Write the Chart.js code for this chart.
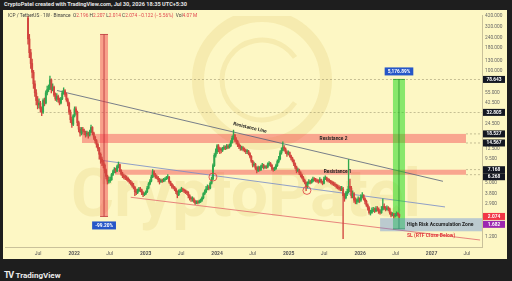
<!doctype html>
<html>
<head>
<meta charset="utf-8">
<title>ICP / TetherUS 1W</title>
<script src="https://cdn.jsdelivr.net/npm/chart.js"></script>
<style>
  html, body { margin: 0; padding: 0; width: 512px; height: 281px; overflow: hidden; background: #1e1e1e; font-family: Roboto, "Liberation Sans", sans-serif; }
  #top { position: absolute; left: 4px; top: 1px; font-size: 5.6px; font-weight: bold; color: #e6e6e6; white-space: nowrap; }
  #wrap { position: absolute; left: 3px; top: 10px; width: 504px; height: 249px; background: #fdf7c4; }
  #foot { position: absolute; left: 4px; top: 263px; color: #ececec; font-weight: bold; white-space: nowrap; }
  #foot .logo { font-size: 9px; letter-spacing: -1.5px; margin-right: 3px; }
  #foot .name { font-size: 8px; }
</style>
</head>
<body>
<div id="top">CryptoPatel created with TradingView.com, Jul 30, 2026 18:35 UTC+5:30</div>
<div id="wrap"><canvas id="chart" width="504" height="249"></canvas></div>
<div id="foot"><span class="logo">TV</span><span class="name">TradingView</span></div>

<script>
// weekly candles, week 0 = 10 May 2021 (open of each week = previous close)
const firstWeek = '2021-05-10';
const firstOpen = 400;
const closes = [
  230, 160, 120, 95, 70, 55, 45, 40, 42, 36,
  33, 45, 42, 55, 60, 62, 78, 60, 64, 52,
  47, 50, 46, 42, 47, 55, 58, 53, 46, 42,
  33, 27, 24, 30, 36, 33, 25, 21, 19, 21,
  20, 19.5, 18.5, 19, 18, 19.5, 22, 19, 17, 15.5,
  14, 12.5, 10.8, 9.5, 8.8, 8.1, 7, 6, 5.3, 5.4,
  5.5, 6.3, 6.8, 7.2, 6.9, 7.8, 8.2, 7.0, 6.4, 6.1,
  5.9, 5.8, 5.7, 5.4, 5.2, 5.0, 4.7, 4.5, 4.0, 3.9,
  4.1, 4.3, 4.2, 3.9, 3.7, 3.8, 4.0, 4.4, 4.9, 5.3,
  5.9, 6.8, 6.3, 5.9, 5.8, 5.5, 5.2, 5.4, 5.3, 5.5,
  5.6, 5.8, 5.9, 5.2, 4.9, 4.6, 4.5, 4.3, 4.0, 3.7,
  4.0, 4.1, 4.3, 4.2, 4.1, 4.0, 3.9, 3.6, 3.4, 3.3,
  3.3, 3.1, 2.95, 3.05, 3.0, 3.1, 3.2, 3.4, 3.8, 4.0,
  4.3, 4.5, 4.4, 5.0, 5.6, 8.0, 10.5, 11.5, 13.5, 12.5,
  12.3, 12.0, 12.6, 13.0, 12.8, 13.4, 13.0, 13.6, 14.8, 16.5,
  18.0, 16.0, 15.2, 14.0, 13.3, 12.8, 12.8, 12.3, 12.0, 11.6,
  11.6, 11.0, 10.2, 9.0, 8.1, 8.3, 7.5, 7.0, 7.6, 7.2,
  7.8, 8.1, 7.6, 7.8, 7.7, 8.3, 8.5, 8.1, 7.4, 7.2,
  7.4, 8.0, 8.9, 9.5, 11.2, 12.0, 13.0, 12.4, 11.5, 10.9,
  11.3, 10.4, 9.8, 9.2, 8.4, 7.7, 7.0, 7.1, 6.6, 6.2,
  5.8, 5.4, 5.1, 4.6, 5.0, 5.2, 5.1, 5.3, 5.6, 5.5,
  5.4, 5.3, 5.2, 5.5, 5.2, 5.0, 5.6, 5.8, 5.5, 5.4,
  5.3, 5.1, 5.0, 4.9, 4.8, 4.6, 4.5, 4.4, 4.3, 4.3,
  3.6, 3.4, 3.8, 4.0, 4.6, 4.4, 3.6, 3.8, 3.2, 3.1,
  3.1, 3.3, 3.2, 3.5, 3.6, 3.3, 3.1, 2.8, 2.6, 2.3,
  2.3, 2.45, 2.5, 2.4, 2.55, 2.5, 2.35, 2.3, 2.5, 2.7,
  2.6, 2.5, 2.6, 2.55, 2.3, 2.15, 2.2, 2.1, 2.15, 2.25, 2.196, 2.074
];
const highs = [
  750, 260, 175, 135, 100, 76, 60, 50, 47, 44,
  38, 47, 48, 58, 66, 68, 86, 80, 70, 66,
  55, 54, 52, 48, 49, 58, 63, 60, 55, 48,
  43, 35, 29, 31, 38, 38, 34, 26, 22, 22,
  22, 21, 20, 20, 19.5, 20.5, 23.5, 22.5, 19.5, 17.5,
  16, 14.5, 13, 11.2, 10, 9.2, 8.4, 7.3, 6.2, 5.9,
  5.9, 6.5, 7.1, 7.6, 7.5, 8.1, 8.8, 8.3, 7.2, 6.7,
  6.4, 6.2, 6.1, 5.9, 5.6, 5.4, 5.2, 5.0, 4.6, 4.3,
  4.3, 4.5, 4.5, 4.3, 4.0, 3.9, 4.1, 4.6, 5.1, 5.5,
  6.2, 7.2, 7.0, 6.5, 6.2, 6.0, 5.7, 5.6, 5.6, 5.7,
  5.8, 6.0, 6.3, 6.0, 5.3, 5.0, 4.8, 4.6, 4.4, 4.1,
  4.2, 4.3, 4.5, 4.4, 4.3, 4.2, 4.1, 4.0, 3.7, 3.5,
  3.5, 3.4, 3.2, 3.15, 3.15, 3.2, 3.3, 3.5, 3.9, 4.2,
  4.6, 4.8, 4.7, 5.2, 5.9, 8.4, 11, 12.5, 14, 14,
  13, 12.8, 13, 13.6, 13.5, 14, 14, 14.2, 15.5, 17.5,
  20.5, 18.5, 16.8, 15.6, 14.5, 13.8, 13.4, 13.2, 12.8, 12.4,
  12.2, 12, 11.3, 10.4, 9.2, 8.8, 8.5, 7.8, 7.9, 7.8,
  8.1, 8.5, 8.3, 8.0, 8.0, 8.6, 8.9, 8.7, 8.2, 7.6,
  7.7, 8.3, 9.3, 10.2, 11.8, 12.8, 15, 13.6, 12.8, 11.8,
  11.8, 11.5, 10.6, 10, 9.4, 8.6, 7.9, 7.5, 7.3, 6.8,
  6.4, 6.0, 5.6, 5.2, 5.2, 5.5, 5.4, 5.6, 5.9, 5.8,
  5.7, 5.6, 5.5, 5.8, 5.6, 5.3, 5.9, 6.1, 5.9, 5.7,
  5.6, 5.4, 5.3, 5.2, 5.1, 4.9, 4.8, 4.7, 4.6, 4.6,
  4.5, 3.8, 4.0, 4.3, 9.4, 5.6, 4.6, 4.1, 3.9, 3.4,
  3.3, 3.5, 3.4, 3.7, 3.9, 3.7, 3.4, 3.2, 2.9, 2.7,
  2.45, 2.6, 2.65, 2.6, 2.7, 2.7, 2.6, 2.45, 2.7, 3.3,
  2.9, 2.7, 2.75, 2.7, 2.6, 2.35, 2.3, 2.25, 2.25, 2.35, 2.3, 2.207
];
const lows = [
  200, 140, 105, 82, 62, 50, 40, 36, 37, 33,
  30, 32, 39, 41, 52, 57, 60, 55, 58, 50,
  45, 44, 43, 40, 41, 46, 53, 50, 44, 39,
  31, 25, 22, 23, 29, 31, 23, 19.5, 17.5, 18,
  18.5, 18, 17, 17.5, 16.5, 17.5, 19, 18, 16, 14.5,
  13, 11.8, 9.5, 8.5, 8, 7.5, 6.6, 5.6, 4.9, 5.0,
  5.1, 5.4, 6.1, 6.6, 6.6, 6.8, 7.5, 6.8, 6.2, 5.8,
  5.6, 5.5, 5.4, 5.2, 5.0, 4.8, 4.5, 4.3, 3.6, 3.7,
  3.8, 4.0, 4.0, 3.7, 3.5, 3.6, 3.7, 3.9, 4.3, 4.8,
  5.2, 5.8, 6.0, 5.7, 5.6, 5.2, 4.9, 5.1, 5.1, 5.2,
  5.3, 5.5, 5.6, 5.0, 4.7, 4.4, 4.3, 4.1, 3.8, 3.4,
  3.6, 3.9, 4.0, 4.0, 3.9, 3.8, 3.7, 3.4, 3.2, 3.1,
  3.1, 3.0, 2.85, 2.9, 2.9, 2.95, 3.0, 3.1, 3.3, 3.7,
  3.9, 4.2, 4.2, 4.3, 4.9, 5.5, 7.8, 10, 11, 11.5,
  11, 11.2, 11.6, 12.2, 12.2, 12.4, 12.5, 12.7, 13.2, 14.5,
  16, 15.2, 14.2, 13.2, 12.5, 12, 12, 11.8, 11.5, 11,
  11, 10.6, 9.8, 8.7, 7.7, 7.8, 7.2, 6.6, 6.8, 6.9,
  7.0, 7.5, 7.3, 7.4, 7.4, 7.5, 8.0, 7.8, 7.1, 6.9,
  7.0, 7.2, 7.8, 8.6, 9.3, 10.8, 11.8, 11.8, 11, 10.2,
  10.6, 10, 9.3, 8.8, 8.0, 7.3, 6.6, 6.8, 6.3, 5.9,
  5.6, 5.2, 4.9, 4.1, 4.4, 4.9, 4.9, 5.0, 5.2, 5.3,
  5.2, 5.1, 5.0, 5.1, 5.0, 4.8, 4.9, 5.5, 5.3, 5.2,
  5.1, 4.9, 4.8, 4.7, 4.6, 4.4, 4.3, 4.2, 4.1, 4.1,
  1.15, 3.1, 3.3, 3.6, 3.9, 4.0, 3.4, 3.4, 3.0, 2.9,
  2.9, 3.0, 3.0, 3.1, 3.4, 3.2, 2.9, 2.7, 2.45, 2.2,
  2.15, 2.25, 2.35, 2.3, 2.35, 2.4, 2.25, 2.2, 2.25, 2.45,
  2.5, 2.4, 2.45, 2.4, 2.2, 2.05, 2.1, 2.0, 2.05, 2.1, 2.1, 2.014
];
const volumeLast = '4.07 M';

// axes
const xTickDates = ['2021-07-01', '2022-01-01', '2022-07-01', '2023-01-01', '2023-07-01', '2024-01-01',
  '2024-07-01', '2025-01-01', '2025-07-01', '2026-01-01', '2026-07-01', '2027-01-01', '2027-07-01'];
const xTickLabels = ['Jul', '2022', 'Jul', '2023', 'Jul', '2024', 'Jul', '2025', 'Jul', '2026', 'Jul', '2027', 'Jul'];
const yTickValues = [1.2, 2.9, 3.8, 5, 9.5, 12.5, 24.5, 42.5, 55, 100, 130, 180, 240, 320, 420];
const tagValues = [78.643, 32.805, 18.527, 14.567, 7.168, 6.268, 2.074, 1.682];
const tagColors = ['#131722', '#131722', '#131722', '#131722', '#131722', '#131722', '#f23645', '#9c27b0'];

// drawings (weeks from first candle, prices)
const resistance2 = [14.567, 18.527], resistance2Weeks = [39.4, 319.7];
const resistance1 = [6.268, 7.168], resistance1Weeks = [63.5, 319.7];
const crashWeeks = [52.6, 58.4], crashPrices = [259.3, 2.074], crashLabel = '-99.20%';
const rallyWeeks = [266.4, 275.2], rallyPrices = [1.49, 78.643], rallyLabel = '5,176.89%';
const zoneWeeks = [257, 332], zonePrices = [1.40, 1.98];
const upperLine = [[21.2, 58.6], [302.9, 5.27]];
const middleLine = [[52.6, 9.24], [304.4, 2.67]];
const lowerLine = [[75, 3.45], [330, 1.11]];
const dashedLevels = [78.643, 32.805], dashedFrom = [16, 7];
const circles = [[135, 5.9], [203.6, 4.14]];

const dayMs = 864e5;
const weekOf = d => (Date.parse(d + 'T00:00:00Z') - Date.parse(firstWeek + 'T00:00:00Z')) / (7 * dayMs);
const opens = closes.map((c, i) => i === 0 ? firstOpen : closes[i - 1]);
const candleColors = closes.map((c, i) => c >= opens[i] ? '#2fa84f' : '#d2463f');

const drawings = {
  id: 'drawings',
  beforeDatasetsDraw(chart) {
    const { ctx, chartArea: a, scales: { x, y } } = chart;
    const X = v => x.getPixelForValue(v), Y = v => y.getPixelForValue(v);
    ctx.save();
    ctx.beginPath(); ctx.rect(a.left, a.top, a.width, a.height); ctx.clip();

    // watermark
    ctx.strokeStyle = 'rgba(222,196,100,0.22)';
    ctx.lineWidth = 12;
    ctx.beginPath(); ctx.arc(259, 70, 64, 0, Math.PI * 2); ctx.stroke();
    ctx.lineWidth = 5;
    ctx.beginPath(); ctx.arc(259, 70, 40, 0.6, Math.PI * 2 - 0.6); ctx.stroke();
    ctx.fillStyle = 'rgba(222,196,100,0.2)';
    ctx.font = 'bold 66px Roboto';
    ctx.textAlign = 'center'; ctx.textBaseline = 'alphabetic';
    ctx.fillText('CryptoPatel', 243, 206);

    // dashed levels
    ctx.setLineDash([2, 2]);
    ctx.lineWidth = 0.7;
    ctx.strokeStyle = 'rgba(110,100,70,0.55)';
    dashedLevels.forEach((v, i) => {
      ctx.beginPath(); ctx.moveTo(X(dashedFrom[i]), Y(v)); ctx.lineTo(a.right, Y(v)); ctx.stroke();
    });
    [resistance2, resistance1].forEach(r => r.forEach(v => {
      ctx.beginPath(); ctx.moveTo(X(resistance2Weeks[1]), Y(v)); ctx.lineTo(a.right, Y(v)); ctx.stroke();
    }));
    ctx.setLineDash([]);

    // resistance boxes
    ctx.fillStyle = 'rgba(242,54,69,0.42)';
    [[resistance2, resistance2Weeks], [resistance1, resistance1Weeks]].forEach(([p, w]) => {
      ctx.fillRect(X(w[0]), Y(p[1]), X(w[1]) - X(w[0]), Y(p[0]) - Y(p[1]));
    });

    // trend lines
    ctx.lineWidth = 0.8;
    [[upperLine, '#56607a'], [middleLine, '#7389c8'], [lowerLine, '#e2676b']].forEach(([l, c]) => {
      ctx.strokeStyle = c;
      ctx.beginPath(); ctx.moveTo(X(l[0][0]), Y(l[0][1])); ctx.lineTo(X(l[1][0]), Y(l[1][1])); ctx.stroke();
    });

    // measure bands
    const band = (w, p, fill, line) => {
      const x0 = X(w[0]), x1 = X(w[1]), y0 = Y(p[0]), y1 = Y(p[1]);
      const top = Math.min(y0, y1), bot = Math.max(y0, y1);
      ctx.fillStyle = fill;
      ctx.fillRect(x0, top, x1 - x0, bot - top);
      ctx.strokeStyle = line; ctx.lineWidth = 1;
      ctx.beginPath();
      ctx.moveTo((x0 + x1) / 2, top); ctx.lineTo((x0 + x1) / 2, bot);
      ctx.moveTo(x0, top); ctx.lineTo(x1, top);
      ctx.moveTo(x0, bot); ctx.lineTo(x1, bot);
      ctx.stroke();
    };
    band(crashWeeks, crashPrices, 'rgba(242,54,69,0.45)', 'rgba(180,40,50,0.75)');
    band(rallyWeeks, rallyPrices, 'rgba(20,215,20,0.5)', 'rgba(30,140,40,0.75)');

    // accumulation zone
    ctx.fillStyle = 'rgba(80,130,225,0.38)';
    const zx = X(zoneWeeks[0]), zy = Y(zonePrices[1]);
    ctx.fillRect(zx, zy, X(zoneWeeks[1]) - zx, Y(zonePrices[0]) - zy);
    ctx.restore();
  },
  afterDatasetsDraw(chart) {
    const { ctx, chartArea: a, scales: { x, y } } = chart;
    const X = v => x.getPixelForValue(v), Y = v => y.getPixelForValue(v);
    ctx.save();
    ctx.beginPath(); ctx.rect(a.left, a.top, a.width, a.height); ctx.clip();

    // circles
    ctx.strokeStyle = '#e0393e'; ctx.lineWidth = 0.8;
    circles.forEach(([w, p]) => { ctx.beginPath(); ctx.arc(X(w), Y(p), 4, 0, Math.PI * 2); ctx.stroke(); });

    // text labels
    ctx.fillStyle = '#1f1f1f';
    ctx.font = 'bold 4.8px Roboto';
    ctx.textAlign = 'center'; ctx.textBaseline = 'middle';
    ctx.fillText('Resistance 2', X(223), Y(16.4));
    ctx.fillText('Resistance 1', X(226), Y(6.75));
    const ang = Math.atan2(Y(upperLine[1][1]) - Y(upperLine[0][1]), X(upperLine[1][0]) - X(upperLine[0][0]));
    ctx.save();
    ctx.translate(X(162), Y(21.8)); ctx.rotate(ang);
    ctx.fillText('Resistance Line', 0, 0);
    ctx.restore();
    ctx.textAlign = 'left';
    ctx.font = 'bold 5px Roboto';
    ctx.fillText('High Risk Accumulation Zone', X(276.6), Y(1.65));
    ctx.fillStyle = '#e0393e';
    ctx.fillText('SL (RTF Close Below)', X(276.6), Y(1.25));

    // measure labels
    const pill = (text, cx, cy) => {
      ctx.font = 'bold 4.8px Roboto';
      const w = ctx.measureText(text).width + 6;
      ctx.fillStyle = '#2656c8';
      ctx.fillRect(cx - w / 2, cy - 4, w, 8);
      ctx.fillStyle = '#ffffff'; ctx.textAlign = 'center';
      ctx.fillText(text, cx, cy + 0.3);
    };
    pill(crashLabel, X((crashWeeks[0] + crashWeeks[1]) / 2), Y(crashPrices[1]) + 9);
    pill(rallyLabel, X((rallyWeeks[0] + rallyWeeks[1]) / 2), Y(rallyPrices[1]) - 8);
    ctx.restore();
  },
  afterDraw(chart) {
    const { ctx, chartArea: a, scales: { y } } = chart;
    ctx.save();
    // price tags on the axis
    const ys = tagValues.map(v => y.getPixelForValue(v));
    for (let i = 1; i < ys.length; i++) if (ys[i] - ys[i - 1] < 7) ys[i] = ys[i - 1] + 7;
    ctx.font = 'bold 4.8px Roboto'; ctx.textBaseline = 'middle'; ctx.textAlign = 'center';
    tagValues.forEach((v, i) => {
      ctx.fillStyle = tagColors[i];
      ctx.fillRect(a.right + 1, ys[i] - 3.5, 22, 7);
      ctx.fillStyle = '#ffffff';
      ctx.fillText(v.toFixed(3), a.right + 12, ys[i] + 0.3);
    });

    // legend line
    const n = closes.length - 1;
    const chg = closes[n] - opens[n];
    const dark = '#3b3b3b', red = '#e0454f';
    const parts = [
      ['ICP / TetherUS · 1W · Binance  ', dark], ['O', dark], [opens[n].toFixed(3), red],
      [' H', dark], [highs[n].toFixed(3), red], [' L', dark], [lows[n].toFixed(3), red],
      [' C', dark], [closes[n].toFixed(3), red],
      [' \u2212' + Math.abs(chg).toFixed(3) + ' (\u2212' + Math.abs(chg / opens[n] * 100).toFixed(2) + '%)', red],
      ['  Vol', dark], [volumeLast, red]
    ];
    ctx.font = '4.8px Roboto'; ctx.textAlign = 'left';
    let px = 5;
    parts.forEach(([t, c]) => { ctx.fillStyle = c; ctx.fillText(t, px, 5.5); px += ctx.measureText(t).width; });
    ctx.restore();
  }
};

new Chart(document.getElementById('chart'), {
  type: 'bar',
  data: {
    datasets: [
      {
        label: 'wick',
        data: closes.map((c, i) => ({ x: i, y: [lows[i], highs[i]] })),
        backgroundColor: candleColors,
        barThickness: 0.7,
        minBarLength: 0.6,
        grouped: false,
        order: 2
      },
      {
        label: 'body',
        data: closes.map((c, i) => ({ x: i, y: [opens[i], c] })),
        backgroundColor: candleColors,
        barThickness: 1.3,
        minBarLength: 0.7,
        grouped: false,
        order: 1
      }
    ]
  },
  options: {
    responsive: false,
    animation: false,
    devicePixelRatio: 1,
    layout: { padding: { left: 2, right: 0, top: 0, bottom: 0 } },
    plugins: { legend: { display: false }, tooltip: { enabled: false } },
    scales: {
      x: {
        type: 'linear',
        min: -16.8,
        max: 331.4,
        offset: false,
        grid: { display: false, drawTicks: false },
        border: { color: '#c9c19a', width: 1 },
        afterBuildTicks: s => { s.ticks = xTickDates.map(d => ({ value: weekOf(d) })); },
        afterFit: s => { s.height = 12; },
        ticks: {
          autoSkip: false, maxRotation: 0, padding: 3.5, color: '#555',
          font: c => ({ size: 5, family: 'Roboto', weight: /^\d/.test(xTickLabels[c.index] || '') ? 'bold' : 'normal' }),
          callback: (v, i) => xTickLabels[i]
        }
      },
      y: {
        type: 'logarithmic',
        position: 'right',
        min: 0.922,
        max: 424.6,
        grid: { display: false, drawTicks: false },
        border: { color: '#c9c19a', width: 1 },
        afterBuildTicks: s => { s.ticks = yTickValues.map(v => ({ value: v })); },
        afterFit: s => { s.width = 25; },
        ticks: {
          autoSkip: false, padding: 3, color: '#666',
          font: { size: 4.8, family: 'Roboto' },
          callback: v => Number(v).toFixed(3)
        }
      }
    }
  },
  plugins: [drawings]
});
</script>
</body>
</html>
